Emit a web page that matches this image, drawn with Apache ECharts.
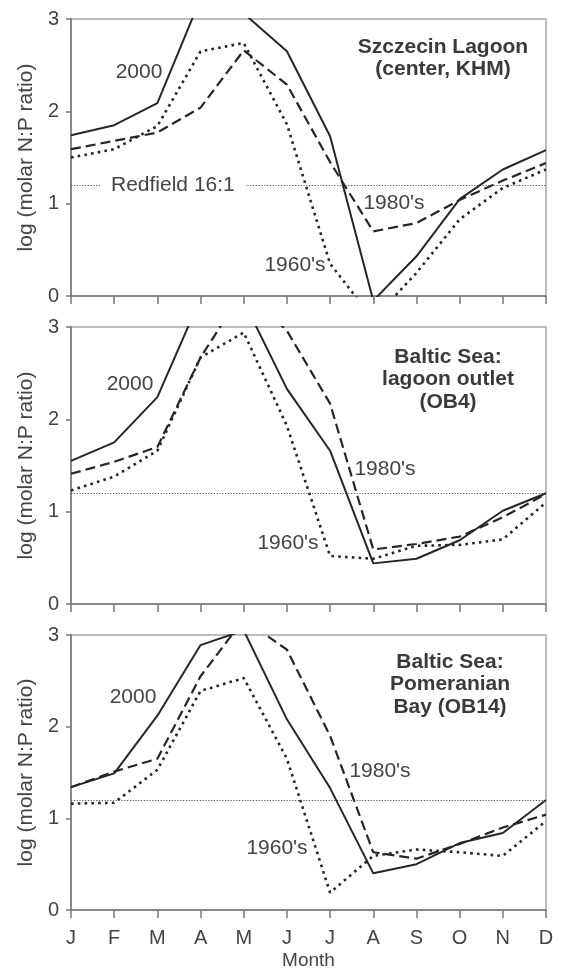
<!DOCTYPE html>
<html>
<head>
<meta charset="utf-8">
<script src="https://cdn.jsdelivr.net/npm/echarts@6/dist/echarts.min.js"></script>
<style>
  html, body { margin: 0; padding: 0; background: #fff; }
  #chart { width: 562px; height: 971px; }
</style>
</head>
<body>
<div id="chart"></div>
<script>
// months on the x axis
const months = ['J', 'F', 'M', 'A', 'M', 'J', 'J', 'A', 'S', 'O', 'N', 'D']
const yTicks = [0, 1, 2, 3]
const redfield = 1.2

// panel titles
const titles = [
  ['Szczecin Lagoon', '(center, KHM)'],
  ['Baltic Sea:', 'lagoon outlet', '(OB4)'],
  ['Baltic Sea:', 'Pomeranian', 'Bay (OB14)']
]

// Szczecin Lagoon (KHM)
const khm2000 = [1.74, 1.85, 2.09, 3.22, 3.06, 2.65, 1.73, -0.05, 0.43, 1.05, 1.37, 1.58]
const khm1980 = [1.59, 1.68, 1.77, 2.04, 2.66, 2.29, 1.45, 0.70, 0.79, 1.04, 1.25, 1.44]
const khm1960 = [1.50, 1.59, 1.84, 2.65, 2.74, 1.86, 0.35, -0.25, 0.25, 0.83, 1.17, 1.37]

// lagoon outlet (OB4)
const ob4_2000 = [1.55, 1.75, 2.24, 3.31, 3.28, 2.33, 1.66, 0.44, 0.49, 0.69, 1.01, 1.20]
const ob4_1980 = [1.41, 1.54, 1.70, 2.67, 3.40, 2.96, 2.17, 0.59, 0.65, 0.73, 0.94, 1.19]
const ob4_1960 = [1.23, 1.38, 1.66, 2.67, 2.94, 1.93, 0.52, 0.49, 0.63, 0.64, 0.70, 1.10]

// Pomeranian Bay (OB14)
const ob14_2000 = [1.34, 1.49, 2.12, 2.89, 3.05, 2.08, 1.33, 0.40, 0.50, 0.73, 0.84, 1.20]
const ob14_1980 = [1.34, 1.51, 1.65, 2.55, 3.17, 2.84, 1.90, 0.63, 0.56, 0.72, 0.90, 1.04]
const ob14_1960 = [1.16, 1.17, 1.53, 2.39, 2.53, 1.65, 0.19, 0.59, 0.66, 0.63, 0.59, 0.97]

const panels = [
  [khm2000, khm1980, khm1960],
  [ob4_2000, ob4_1980, ob4_1960],
  [ob14_2000, ob14_1980, ob14_1960]
]

const FONT = 'Liberation Sans, Arial, sans-serif'
const TXT = '#444'
const AXIS = '#777'
const LINE = '#262626'

const gridLeft = 71
const gridWidth = 475
const gridTops = [19, 327, 635]
const gridH = 277

// where the series labels sit (x centre, value)
const labelPos = [
  { l2000: [139, 2.42], l1980: [394, 1.0], l1960: [295, 0.33] },
  { l2000: [130, 2.38], l1980: [385, 1.46], l1960: [288, 0.66] },
  { l2000: [133, 2.33], l1980: [380, 1.52], l1960: [277, 0.69] }
]
const titleX = [443, 448, 450]
const titleY = [47, 357, 662]

const styles = [
  { type: 'solid', width: 2 },
  { type: [10, 5], width: 2.2 },
  { type: [2.6, 4.2], width: 2.6 }
]
const names = ['2000', "1980's", "1960's"]

const grid = [], xAxis = [], yAxis = [], series = [], graphic = []

gridTops.forEach((top, i) => {
  grid.push({
    left: gridLeft, top: top, width: gridWidth, height: gridH,
    show: true, borderColor: '#a8a8a8', borderWidth: 1.5, backgroundColor: 'transparent'
  })
  xAxis.push({
    type: 'category', gridIndex: i, data: months, boundaryGap: false,
    axisLine: { show: true, onZero: false, lineStyle: { color: AXIS, width: 1.5 } },
    axisTick: { show: true, length: 8, interval: 0, lineStyle: { color: AXIS, width: 1.5 } },
    axisLabel: {
      show: i === 2, interval: 0, margin: 18, color: TXT, fontSize: 20, fontFamily: FONT
    },
    splitLine: { show: false },
    name: i === 2 ? 'Month' : '', nameLocation: 'middle', nameGap: 41,
    nameTextStyle: { color: TXT, fontSize: 19, fontFamily: FONT }
  })
  yAxis.push({
    type: 'value', gridIndex: i, min: yTicks[0], max: yTicks[yTicks.length - 1], interval: 1,
    axisLine: { show: true, lineStyle: { color: AXIS, width: 1.5 } },
    axisTick: { show: true, length: 5, lineStyle: { color: AXIS, width: 1.5 } },
    axisLabel: { margin: 12, color: TXT, fontSize: 20, fontFamily: FONT },
    splitLine: { show: false },
    name: 'log (molar N:P ratio)', nameLocation: 'middle', nameGap: 34,
    nameTextStyle: { color: TXT, fontSize: 21, fontFamily: FONT }
  })

  panels[i].forEach((vals, k) => {
    const s = {
      type: 'line', name: names[k] + '_' + i, xAxisIndex: i, yAxisIndex: i,
      data: vals, symbol: 'none', clip: true, smooth: false,
      lineStyle: { color: LINE, width: styles[k].width, type: styles[k].type, cap: 'butt' },
      z: 3 + (2 - k)
    }
    if (k === 2) {
      s.markLine = {
        silent: true, symbol: 'none',
        lineStyle: { color: '#555', width: 1.2, type: [1.2, 1.6] },
        label: { show: false },
        data: [{ yAxis: redfield }]
      }
    }
    series.push(s)
  })

  // title block
  titles[i].forEach((t, j) => {
    graphic.push({
      type: 'text', x: titleX[i], y: titleY[i] + j * 22.5, z: 100,
      style: {
        text: t, fill: '#3a3a3a', font: 'bold 21px ' + FONT,
        textAlign: 'center', textVerticalAlign: 'middle'
      }
    })
  })

  // series labels
  const lp = labelPos[i]
  const yOf = v => top + gridH * (1 - v / 3)
  ;[['2000', lp.l2000], ["1980's", lp.l1980], ["1960's", lp.l1960]].forEach(([t, p]) => {
    graphic.push({
      type: 'text', x: p[0], y: yOf(p[1]), z: 100,
      style: {
        text: t, fill: TXT, font: '21px ' + FONT,
        textAlign: 'center', textVerticalAlign: 'middle'
      }
    })
  })
})

// Redfield label in the top panel, breaking the dotted line
graphic.push({
  type: 'text', x: 100, y: gridTops[0] + gridH * (1 - redfield / 3), z: 100,
  style: {
    text: 'Redfield 16:1', fill: TXT, font: '21px ' + FONT,
    textAlign: 'left', textVerticalAlign: 'middle',
    backgroundColor: '#fff', padding: [2, 11, 2, 11]
  }
})

const chart = echarts.init(document.getElementById('chart'), null, { renderer: 'canvas' })
chart.setOption({
  animation: false,
  backgroundColor: '#fff',
  grid: grid,
  xAxis: xAxis,
  yAxis: yAxis,
  series: series,
  graphic: graphic
})
</script>
</body>
</html>
